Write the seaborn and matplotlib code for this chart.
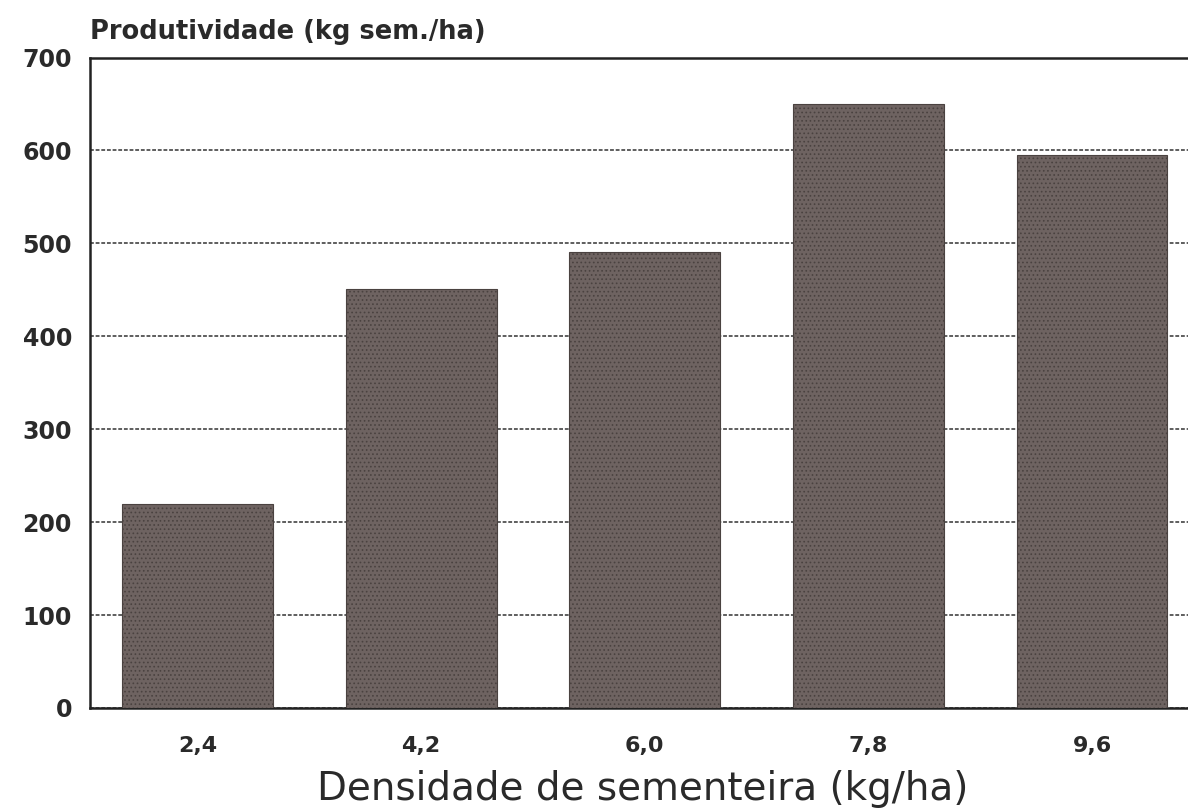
import seaborn as sns
import matplotlib.pyplot as plt
import pandas as pd

# seeding density (kg/ha) and seed yield (kg/ha)
densidade = ['2,4', '4,2', '6,0', '7,8', '9,6']
produtividade = [220, 451, 491, 650, 595]

df = pd.DataFrame({'densidade': densidade, 'produtividade': produtividade})

sns.set_style('white')
plt.rcParams['font.family'] = ['DejaVu Sans']
plt.rcParams['hatch.color'] = '#e0dad4'
plt.rcParams['hatch.linewidth'] = 0.7

fig = plt.figure(figsize=(11.88, 8.1), dpi=100)
ax = fig.add_axes([0.0758, 0.126, 0.93, 0.803])

sns.barplot(data=df, x='densidade', y='produtividade', color='#6e6361',
            width=0.675, saturation=1, ax=ax, zorder=3)
for p in ax.patches:
    p.set_hatch('....')
    p.set_edgecolor('#4a4240')
    p.set_linewidth(0.8)

ax.set_ylim(0, 700)
ax.set_xlim(-0.48, 4.46)
ax.set_yticks(range(0, 701, 100))
ax.yaxis.grid(True, linestyle=(0, (2.5, 1.2)), color='#333333', linewidth=1.1, zorder=0)
ax.tick_params(axis='both', length=0, colors='#2a2a2a')
ax.tick_params(axis='y', labelsize=17, pad=13)
ax.tick_params(axis='x', labelsize=16, pad=20)
for lab in ax.get_xticklabels() + ax.get_yticklabels():
    lab.set_fontweight('bold')

for s in ['left', 'bottom', 'top']:
    ax.spines[s].set_color('#222222')
    ax.spines[s].set_linewidth(1.8)
ax.spines['right'].set_visible(False)

ax.set_ylabel('')
ax.set_xlabel('Densidade de sementeira (kg/ha)', fontsize=28, color='#2a2a2a', va='center')
ax.xaxis.set_label_coords(0.5, -0.125)
fig.text(0.0758, 0.945, 'Produtividade (kg sem./ha)', fontsize=18.5, fontweight='bold',
         color='#2a2a2a', ha='left', va='bottom')

fig.savefig('out.png', dpi=100)
